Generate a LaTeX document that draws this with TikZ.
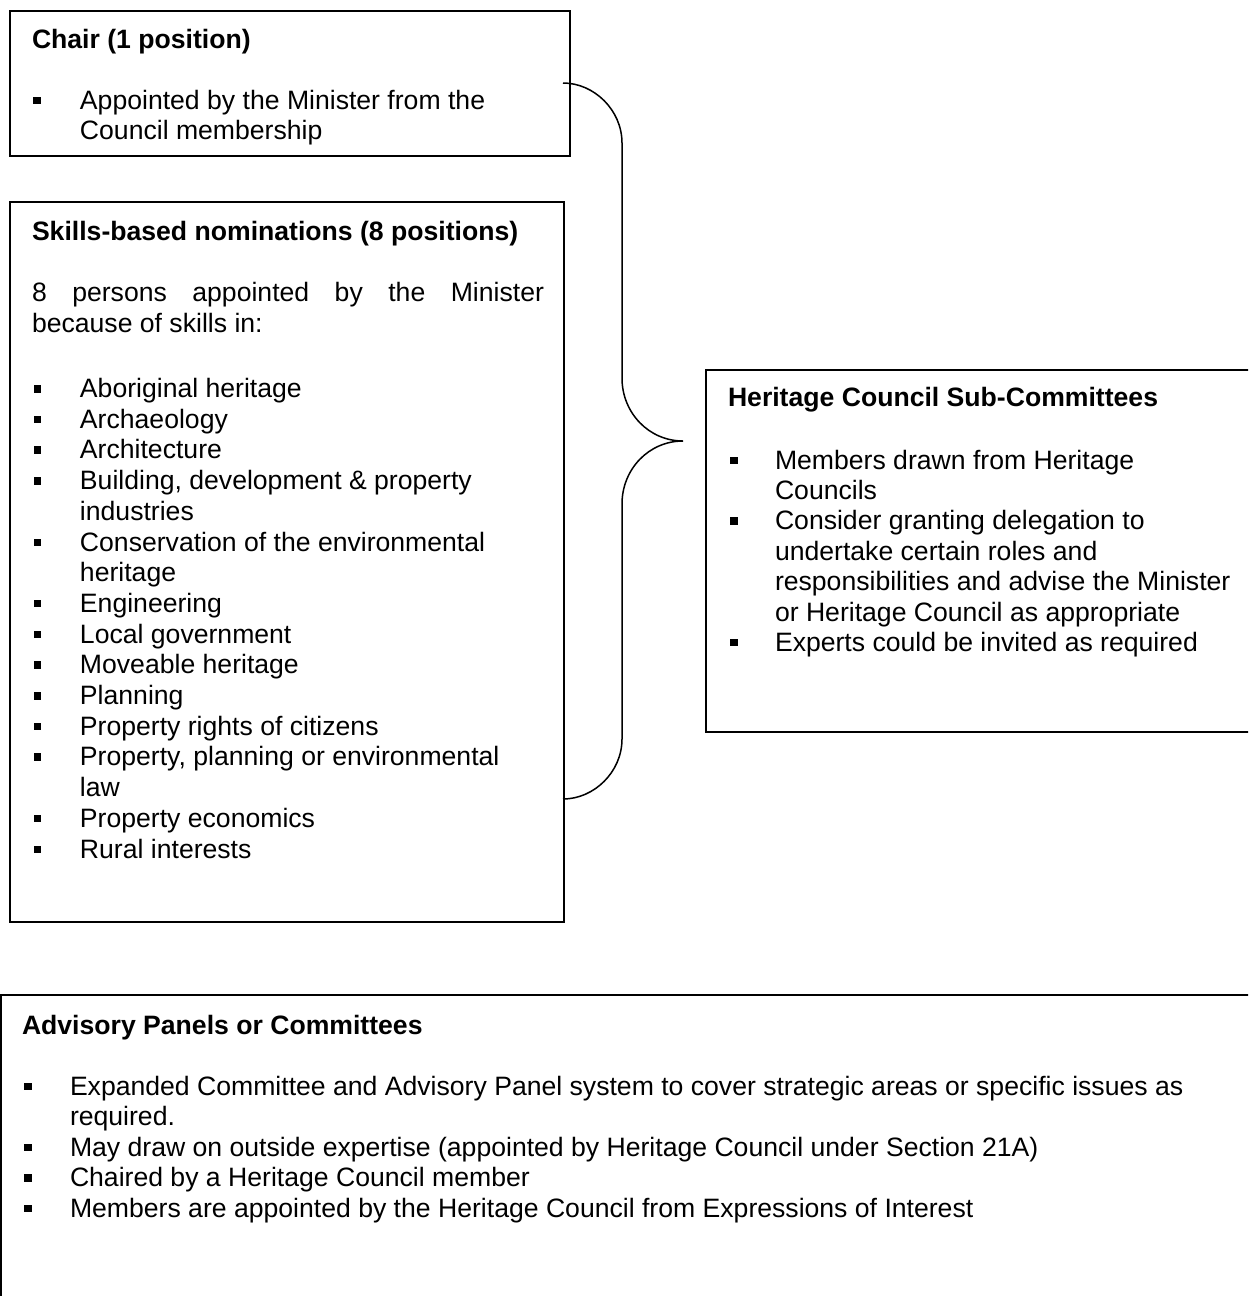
\documentclass[tikz,border=0pt]{standalone}
\usepackage{fontspec}
\setmainfont{Liberation Sans}
\newcommand\bsq{\rule[5pt]{7.5pt}{7.5pt}}
\newcommand\bl[2]{\makebox[#1][l]{\bsq}#2}
\newcommand\cl[2]{\hspace*{#1}#2}
\newcommand\fsz[1]{\fontsize{26.6pt}{#1}\selectfont}
\begin{document}
\begin{tikzpicture}[x=1pt,y=-1pt,
  box/.style={draw=black, line width=1.8pt, rectangle, inner sep=0pt, outer sep=0pt, anchor=north west},
  txt/.style={inner sep=0pt, outer sep=0pt, anchor=base west},
  ttl/.style={txt, font=\fontsize{26.6pt}{30.7pt}\selectfont\bfseries},
  brace/.style={draw=black, line width=1.5pt}]
\useasboundingbox (0,0) rectangle (1248,1296);
\clip (0,0) rectangle (1248,1296);

% boxes
\node[box, minimum width=560pt, minimum height=145pt] (chair) at (10,11) {};
\node[box, minimum width=554pt, minimum height=720pt] (skills) at (10,202) {};
\node[box, minimum width=580pt, minimum height=362pt] (heritage) at (706,370) {};
\node[box, minimum width=1280pt, minimum height=340pt] (advisory) at (1,995) {};

% Chair
\node[ttl] (chairtitle) at (32,48.5) {Chair (1 position)};
\node[txt] (chairlist) at (33,109) {\begin{minipage}[t]{530pt}\fsz{30.5pt}%
\bl{47pt}{Appointed by the Minister from the}\\
\cl{47pt}{Council membership}\end{minipage}};

% Skills
\node[ttl] (skillstitle) at (32,240) {Skills-based nominations (8 positions)};
\node[txt] (skillspara) at (32,301.5) {\begin{minipage}[t]{520pt}\fsz{30.7pt}%
\makebox[512pt][s]{8 persons appointed by the Minister}\\
because of skills in:\end{minipage}};
\node[txt] (skillslist) at (34,397.5) {\begin{minipage}[t]{520pt}\fsz{30.7pt}%
\bl{46pt}{Aboriginal heritage}\\
\bl{46pt}{Archaeology}\\
\bl{46pt}{Architecture}\\
\bl{46pt}{Building, development \& property}\\
\cl{46pt}{industries}\\
\bl{46pt}{Conservation of the environmental}\\
\cl{46pt}{heritage}\\
\bl{46pt}{Engineering}\\
\bl{46pt}{Local government}\\
\bl{46pt}{Moveable heritage}\\
\bl{46pt}{Planning}\\
\bl{46pt}{Property rights of citizens}\\
\bl{46pt}{Property, planning or environmental}\\
\cl{46pt}{law}\\
\bl{46pt}{Property economics}\\
\bl{46pt}{Rural interests}\end{minipage}};

% Heritage
\node[ttl] (heritagetitle) at (728,406) {Heritage Council Sub-Committees};
\node[txt] (heritagelist) at (730,469) {\begin{minipage}[t]{520pt}\fsz{30.4pt}%
\bl{45pt}{Members drawn from Heritage}\\
\cl{45pt}{Councils}\\
\bl{45pt}{Consider granting delegation to}\\
\cl{45pt}{undertake certain roles and}\\
\cl{45pt}{responsibilities and advise the Minister}\\
\cl{45pt}{or Heritage Council as appropriate}\\
\bl{45pt}{Experts could be invited as required}\end{minipage}};

% Advisory
\node[ttl] (advisorytitle) at (22,1034) {Advisory Panels or Committees};
\node[txt] (advisorylist) at (24,1095) {\begin{minipage}[t]{1220pt}\fsz{30.6pt}%
\bl{46pt}{Expanded Committee and Advisory Panel system to cover strategic areas or specific issues as}\\
\cl{46pt}{required.}\\
\bl{46pt}{May draw on outside expertise (appointed by Heritage Council under Section 21A)}\\
\bl{46pt}{Chaired by a Heritage Council member}\\
\bl{46pt}{Members are appointed by the Heritage Council from Expressions of Interest}\end{minipage}};

% brace
\coordinate (bt) at (563,83);
\coordinate (tip) at (683,441);
\coordinate (bb) at (563,799);
\draw[brace] (bt) .. controls (594,83) and (622,110) .. (622,143) -- (622,378)
  .. controls (622,413) and (649,441) .. (tip)
  .. controls (649,441) and (622,469) .. (622,504) -- (622,739)
  .. controls (622,772) and (594,799) .. (bb);
\end{tikzpicture}
\end{document}
